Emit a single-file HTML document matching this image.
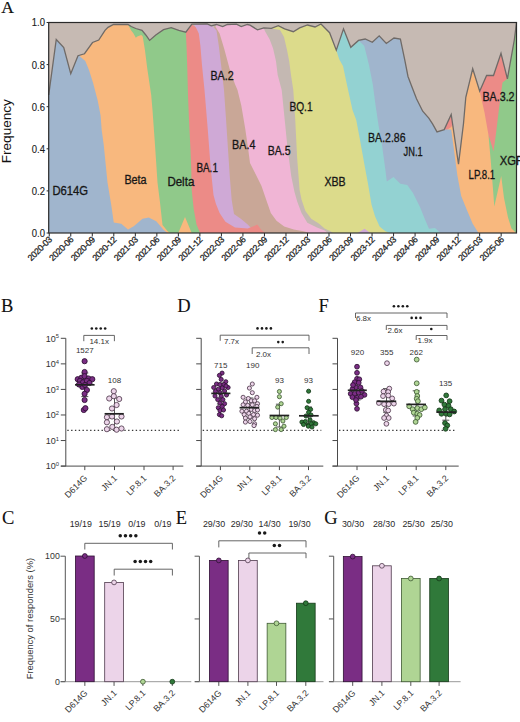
<!DOCTYPE html><html><head><meta charset="utf-8"><style>html,body{margin:0;padding:0;background:#fff;}svg{display:block;}text{font-family:"Liberation Sans",sans-serif;}</style></head><body>
<svg width="520" height="722" viewBox="0 0 520 722">
<rect width="520" height="722" fill="#fff"/>
<text x="1.2" y="12.5" font-size="17.5" fill="#111" stroke="#111" stroke-width="0.2" style="font-family:'Liberation Serif',serif">A</text>
<rect x="48.70" y="22.50" width="467.80" height="210.50" fill="#c6bab3"/>
<path d="M479.70 233.00 L479.70 91.20 L486.60 75.50 L493.50 75.50 L501.00 53.30 L507.40 78.80 L507.40 233.00 Z M444.20 233.00 L444.20 129.60 L451.20 114.50 L452.80 125.00 L452.80 233.00 Z" fill="#ec8b87"/>
<path d="M488.40 233.00 L488.40 134.50 L493.50 151.40 L496.20 132.00 L499.00 108.50 L502.50 82.50 L507.40 78.80 L514.30 40.00 L516.50 22.50 L516.50 233.00 L516.50 233.00 Z" fill="#90c98a"/>
<path d="M444.20 233.00 L444.20 131.50 L451.30 127.00 L452.60 123.80 L458.50 164.20 L463.50 123.50 L465.80 97.30 L472.70 68.80 L479.70 91.20 L484.50 112.60 L488.40 134.50 L490.70 160.00 L492.60 184.00 L494.30 206.50 L501.20 176.00 L504.00 198.00 L508.00 217.50 L511.50 228.60 L515.70 232.50 L515.70 233.00 Z" fill="#f8b87e"/>
<path d="M358.50 233.00 L358.50 40.40 L365.20 39.00 L372.30 42.30 L379.20 35.80 L386.30 43.50 L394.00 38.00 L400.40 39.00 L404.60 59.20 L408.00 76.50 L411.20 85.00 L416.50 98.80 L422.70 111.20 L428.80 118.10 L432.70 124.20 L437.00 131.90 L444.20 129.60 L451.20 129.60 L454.00 150.00 L457.30 175.00 L461.20 196.00 L466.90 210.00 L472.70 223.80 L478.50 233.00 L478.50 233.00 Z" fill="#a0b5cd"/>
<path d="M336.30 233.00 L336.30 50.20 L343.50 28.80 L350.80 47.30 L358.50 40.40 L364.20 45.80 L369.00 65.00 L372.90 85.00 L375.50 105.00 L378.50 125.00 L382.00 145.00 L385.40 170.00 L386.80 181.50 L393.50 176.90 L400.40 183.80 L407.30 185.00 L413.00 193.00 L420.00 207.00 L424.60 218.50 L429.00 228.80 L435.00 228.00 L440.50 233.00 L440.50 233.00 Z" fill="#93d2d2"/>
<path d="M272.50 233.00 L272.50 28.30 L278.30 25.60 L284.60 28.80 L293.30 31.70 L299.60 27.90 L307.50 25.00 L315.00 27.00 L321.00 24.00 L329.60 32.70 L336.30 50.20 L339.20 59.20 L343.00 66.00 L347.00 85.00 L352.50 110.00 L356.25 120.00 L360.00 140.00 L364.50 165.00 L368.00 183.80 L371.50 204.60 L375.00 216.20 L379.60 226.50 L385.40 231.20 L390.00 233.00 L390.00 233.00 Z" fill="#dcdb8b"/>
<path d="M263.80 233.00 L263.80 27.90 L271.30 28.30 L272.50 28.80 L280.00 30.00 L284.00 36.90 L286.90 49.60 L289.20 61.20 L291.00 75.00 L293.30 90.00 L295.20 118.80 L297.10 157.30 L299.60 190.00 L301.50 199.60 L305.40 211.00 L311.20 218.80 L318.80 223.60 L324.60 228.50 L330.40 231.30 L333.00 233.00 L333.00 233.00 Z" fill="#c4b8b2"/>
<path d="M215.80 233.00 L215.80 25.00 L216.50 24.50 L222.70 26.50 L227.30 24.50 L236.50 24.20 L241.20 26.50 L247.30 24.50 L250.00 25.20 L257.50 29.80 L263.80 27.90 L265.00 31.20 L269.60 39.20 L273.10 48.50 L276.00 61.20 L277.70 75.00 L281.70 90.00 L284.60 118.80 L287.50 147.70 L291.30 176.50 L294.50 192.00 L297.20 201.50 L301.50 213.00 L307.30 222.70 L317.00 227.50 L324.60 230.40 L328.00 233.00 L328.00 233.00 Z" fill="#f0b5d5"/>
<path d="M214.20 233.00 L214.20 25.50 L215.80 27.30 L219.60 33.50 L224.20 48.80 L229.60 68.80 L235.00 84.20 L237.50 90.00 L241.30 105.40 L245.20 128.50 L248.00 147.70 L250.00 163.00 L255.80 174.60 L261.50 186.00 L266.30 200.00 L270.80 213.00 L276.50 220.80 L284.20 226.50 L293.80 229.40 L303.50 231.30 L310.00 233.00 L310.00 233.00 Z" fill="#c9a797"/>
<path d="M195.00 233.00 L195.00 24.30 L207.30 23.90 L211.20 25.80 L214.20 28.00 L216.50 30.40 L218.80 45.80 L221.20 65.80 L224.00 90.00 L226.00 118.80 L227.90 147.70 L229.80 176.50 L231.70 200.00 L234.00 214.00 L240.80 218.80 L247.70 224.60 L252.00 229.00 L255.00 233.00 L255.00 233.00 Z M357.70 233.00 L357.70 233.00 L364.60 228.80 L370.40 233.00 L370.40 233.00 Z" fill="#cfa9d6"/>
<path d="M185.80 233.00 L185.80 32.20 L191.90 24.20 L195.80 27.30 L198.80 33.50 L200.40 45.80 L201.90 64.20 L204.50 90.00 L207.70 128.50 L210.60 167.00 L213.50 195.00 L215.80 203.50 L219.60 213.00 L225.40 221.70 L235.00 227.50 L247.70 228.50 L257.30 224.60 L261.00 229.40 L265.00 233.00 L265.00 233.00 Z" fill="#ec8b87"/>
<path d="M128.00 233.00 L128.00 24.50 L131.20 26.50 L135.80 28.50 L142.00 30.40 L145.80 35.00 L149.60 40.40 L155.80 35.00 L163.50 29.60 L171.20 27.60 L178.80 30.40 L185.80 32.20 L186.50 45.80 L187.30 68.80 L188.00 95.00 L189.00 120.00 L190.50 150.00 L191.25 170.00 L191.70 190.00 L193.70 209.00 L196.50 224.60 L199.40 231.30 L200.00 233.00 L200.00 233.00 Z" fill="#90c98a"/>
<path d="M79.20 233.00 L79.20 55.80 L84.50 53.75 L92.50 42.50 L98.75 40.00 L105.00 30.40 L108.00 27.30 L113.50 24.50 L128.00 24.50 L131.20 30.40 L133.50 33.50 L135.80 37.80 L137.30 36.50 L141.20 35.00 L142.70 36.50 L145.00 50.40 L147.30 68.80 L149.60 84.20 L151.20 95.00 L152.50 110.00 L155.00 145.00 L157.50 182.50 L160.00 202.50 L162.50 225.00 L167.50 231.00 L170.00 233.00 L170.00 233.00 Z M178.30 233.00 L178.30 233.00 L185.00 217.00 L191.70 233.00 L191.70 233.00 Z" fill="#f8b87e"/>
<path d="M48.70 233.00 L48.70 95.00 L56.25 39.50 L63.75 47.50 L70.75 73.75 L78.00 55.75 L79.20 55.80 L85.30 61.00 L89.00 70.00 L93.10 83.00 L97.70 100.40 L100.60 115.40 L101.70 130.00 L103.75 145.00 L107.50 182.50 L111.25 205.00 L113.75 222.50 L121.25 223.75 L128.00 229.50 L133.75 226.25 L142.50 218.75 L148.75 217.50 L156.25 221.25 L163.75 230.00 L167.50 233.00 L167.50 233.00 Z" fill="#a0b5cd"/>
<polyline points="48.70,95.00 56.25,39.50 63.75,47.50 70.75,73.75 78.00,55.75 84.50,53.75 92.50,42.50 98.75,40.00 105.00,30.40 108.00,27.30 113.50,24.50 128.00,24.50 131.20,26.50 135.80,28.50 142.00,30.40 145.80,35.00 149.60,40.40 155.80,35.00 163.50,29.60 171.20,27.60 178.80,30.40 185.80,32.20 191.90,24.20 207.30,23.90 211.20,25.80 216.50,24.50 222.70,26.50 227.30,24.50 236.50,24.20 241.20,26.50 247.30,24.50 250.00,25.20 257.50,29.80 263.80,27.90 271.30,28.30 278.30,25.60 284.60,28.80 293.30,31.70 299.60,27.90 307.50,25.00 315.00,27.00 321.00,24.00 329.60,32.70 336.30,50.20 343.50,28.80 350.80,47.30 358.50,40.40 365.20,39.00 372.30,42.30 379.20,35.80 386.30,43.50 394.00,38.00 400.40,39.00 404.60,59.20 408.00,76.50 411.20,85.00 416.50,98.80 422.70,111.20 428.80,118.10 432.70,124.20 437.00,131.90 444.20,129.60 451.20,114.50 458.50,164.20 463.50,123.50 465.80,97.30 472.70,68.80 479.70,91.20 486.60,75.50 493.50,75.50 501.00,53.30 507.40,78.80 514.30,40.00 516.50,22.50" fill="none" stroke="#6f6a67" stroke-width="1.3" stroke-linejoin="miter"/>
<rect x="48.70" y="22.50" width="467.80" height="210.50" fill="none" stroke="#2a2a2a" stroke-width="1.2"/>
<line x1="46.6" y1="233.00" x2="48.70" y2="233.00" stroke="#2a2a2a" stroke-width="1"/>
<text x="45.00" y="236.90" font-size="10.6" text-anchor="end" fill="#1a1a1a" stroke="#1a1a1a" stroke-width="0.12" textLength="13.2" lengthAdjust="spacingAndGlyphs">0.0</text>
<line x1="46.6" y1="190.90" x2="48.70" y2="190.90" stroke="#2a2a2a" stroke-width="1"/>
<text x="45.00" y="194.80" font-size="10.6" text-anchor="end" fill="#1a1a1a" stroke="#1a1a1a" stroke-width="0.12" textLength="13.2" lengthAdjust="spacingAndGlyphs">0.2</text>
<line x1="46.6" y1="148.80" x2="48.70" y2="148.80" stroke="#2a2a2a" stroke-width="1"/>
<text x="45.00" y="152.70" font-size="10.6" text-anchor="end" fill="#1a1a1a" stroke="#1a1a1a" stroke-width="0.12" textLength="13.2" lengthAdjust="spacingAndGlyphs">0.4</text>
<line x1="46.6" y1="106.70" x2="48.70" y2="106.70" stroke="#2a2a2a" stroke-width="1"/>
<text x="45.00" y="110.60" font-size="10.6" text-anchor="end" fill="#1a1a1a" stroke="#1a1a1a" stroke-width="0.12" textLength="13.2" lengthAdjust="spacingAndGlyphs">0.6</text>
<line x1="46.6" y1="64.60" x2="48.70" y2="64.60" stroke="#2a2a2a" stroke-width="1"/>
<text x="45.00" y="68.50" font-size="10.6" text-anchor="end" fill="#1a1a1a" stroke="#1a1a1a" stroke-width="0.12" textLength="13.2" lengthAdjust="spacingAndGlyphs">0.8</text>
<line x1="46.6" y1="22.50" x2="48.70" y2="22.50" stroke="#2a2a2a" stroke-width="1"/>
<text x="45.00" y="26.40" font-size="10.6" text-anchor="end" fill="#1a1a1a" stroke="#1a1a1a" stroke-width="0.12" textLength="13.2" lengthAdjust="spacingAndGlyphs">1.0</text>
<text transform="translate(10.9,131.2) rotate(-90)" font-size="13.6" text-anchor="middle" fill="#111">Frequency</text>
<line x1="49.25" y1="233.00" x2="49.25" y2="236.5" stroke="#2a2a2a" stroke-width="1"/>
<text transform="translate(52.45,240.3) rotate(-45)" font-size="8.8" text-anchor="end" fill="#1a1a1a" stroke="#1a1a1a" stroke-width="0.25" letter-spacing="-0.35">2020-03</text>
<line x1="70.77" y1="233.00" x2="70.77" y2="236.5" stroke="#2a2a2a" stroke-width="1"/>
<text transform="translate(73.97,240.3) rotate(-45)" font-size="8.8" text-anchor="end" fill="#1a1a1a" stroke="#1a1a1a" stroke-width="0.25" letter-spacing="-0.35">2020-06</text>
<line x1="92.29" y1="233.00" x2="92.29" y2="236.5" stroke="#2a2a2a" stroke-width="1"/>
<text transform="translate(95.49,240.3) rotate(-45)" font-size="8.8" text-anchor="end" fill="#1a1a1a" stroke="#1a1a1a" stroke-width="0.25" letter-spacing="-0.35">2020-09</text>
<line x1="113.81" y1="233.00" x2="113.81" y2="236.5" stroke="#2a2a2a" stroke-width="1"/>
<text transform="translate(117.01,240.3) rotate(-45)" font-size="8.8" text-anchor="end" fill="#1a1a1a" stroke="#1a1a1a" stroke-width="0.25" letter-spacing="-0.35">2020-12</text>
<line x1="135.33" y1="233.00" x2="135.33" y2="236.5" stroke="#2a2a2a" stroke-width="1"/>
<text transform="translate(138.53,240.3) rotate(-45)" font-size="8.8" text-anchor="end" fill="#1a1a1a" stroke="#1a1a1a" stroke-width="0.25" letter-spacing="-0.35">2021-03</text>
<line x1="156.85" y1="233.00" x2="156.85" y2="236.5" stroke="#2a2a2a" stroke-width="1"/>
<text transform="translate(160.05,240.3) rotate(-45)" font-size="8.8" text-anchor="end" fill="#1a1a1a" stroke="#1a1a1a" stroke-width="0.25" letter-spacing="-0.35">2021-06</text>
<line x1="178.37" y1="233.00" x2="178.37" y2="236.5" stroke="#2a2a2a" stroke-width="1"/>
<text transform="translate(181.57,240.3) rotate(-45)" font-size="8.8" text-anchor="end" fill="#1a1a1a" stroke="#1a1a1a" stroke-width="0.25" letter-spacing="-0.35">2021-09</text>
<line x1="199.89" y1="233.00" x2="199.89" y2="236.5" stroke="#2a2a2a" stroke-width="1"/>
<text transform="translate(203.09,240.3) rotate(-45)" font-size="8.8" text-anchor="end" fill="#1a1a1a" stroke="#1a1a1a" stroke-width="0.25" letter-spacing="-0.35">2021-12</text>
<line x1="221.41" y1="233.00" x2="221.41" y2="236.5" stroke="#2a2a2a" stroke-width="1"/>
<text transform="translate(224.61,240.3) rotate(-45)" font-size="8.8" text-anchor="end" fill="#1a1a1a" stroke="#1a1a1a" stroke-width="0.25" letter-spacing="-0.35">2022-03</text>
<line x1="242.93" y1="233.00" x2="242.93" y2="236.5" stroke="#2a2a2a" stroke-width="1"/>
<text transform="translate(246.13,240.3) rotate(-45)" font-size="8.8" text-anchor="end" fill="#1a1a1a" stroke="#1a1a1a" stroke-width="0.25" letter-spacing="-0.35">2022-06</text>
<line x1="264.45" y1="233.00" x2="264.45" y2="236.5" stroke="#2a2a2a" stroke-width="1"/>
<text transform="translate(267.65,240.3) rotate(-45)" font-size="8.8" text-anchor="end" fill="#1a1a1a" stroke="#1a1a1a" stroke-width="0.25" letter-spacing="-0.35">2022-09</text>
<line x1="285.97" y1="233.00" x2="285.97" y2="236.5" stroke="#2a2a2a" stroke-width="1"/>
<text transform="translate(289.17,240.3) rotate(-45)" font-size="8.8" text-anchor="end" fill="#1a1a1a" stroke="#1a1a1a" stroke-width="0.25" letter-spacing="-0.35">2022-12</text>
<line x1="307.49" y1="233.00" x2="307.49" y2="236.5" stroke="#2a2a2a" stroke-width="1"/>
<text transform="translate(310.69,240.3) rotate(-45)" font-size="8.8" text-anchor="end" fill="#1a1a1a" stroke="#1a1a1a" stroke-width="0.25" letter-spacing="-0.35">2023-03</text>
<line x1="329.01" y1="233.00" x2="329.01" y2="236.5" stroke="#2a2a2a" stroke-width="1"/>
<text transform="translate(332.21,240.3) rotate(-45)" font-size="8.8" text-anchor="end" fill="#1a1a1a" stroke="#1a1a1a" stroke-width="0.25" letter-spacing="-0.35">2023-06</text>
<line x1="350.53" y1="233.00" x2="350.53" y2="236.5" stroke="#2a2a2a" stroke-width="1"/>
<text transform="translate(353.73,240.3) rotate(-45)" font-size="8.8" text-anchor="end" fill="#1a1a1a" stroke="#1a1a1a" stroke-width="0.25" letter-spacing="-0.35">2023-09</text>
<line x1="372.05" y1="233.00" x2="372.05" y2="236.5" stroke="#2a2a2a" stroke-width="1"/>
<text transform="translate(375.25,240.3) rotate(-45)" font-size="8.8" text-anchor="end" fill="#1a1a1a" stroke="#1a1a1a" stroke-width="0.25" letter-spacing="-0.35">2023-12</text>
<line x1="393.57" y1="233.00" x2="393.57" y2="236.5" stroke="#2a2a2a" stroke-width="1"/>
<text transform="translate(396.77,240.3) rotate(-45)" font-size="8.8" text-anchor="end" fill="#1a1a1a" stroke="#1a1a1a" stroke-width="0.25" letter-spacing="-0.35">2024-03</text>
<line x1="415.09" y1="233.00" x2="415.09" y2="236.5" stroke="#2a2a2a" stroke-width="1"/>
<text transform="translate(418.29,240.3) rotate(-45)" font-size="8.8" text-anchor="end" fill="#1a1a1a" stroke="#1a1a1a" stroke-width="0.25" letter-spacing="-0.35">2024-06</text>
<line x1="436.61" y1="233.00" x2="436.61" y2="236.5" stroke="#2a2a2a" stroke-width="1"/>
<text transform="translate(439.81,240.3) rotate(-45)" font-size="8.8" text-anchor="end" fill="#1a1a1a" stroke="#1a1a1a" stroke-width="0.25" letter-spacing="-0.35">2024-09</text>
<line x1="458.13" y1="233.00" x2="458.13" y2="236.5" stroke="#2a2a2a" stroke-width="1"/>
<text transform="translate(461.33,240.3) rotate(-45)" font-size="8.8" text-anchor="end" fill="#1a1a1a" stroke="#1a1a1a" stroke-width="0.25" letter-spacing="-0.35">2024-12</text>
<line x1="479.65" y1="233.00" x2="479.65" y2="236.5" stroke="#2a2a2a" stroke-width="1"/>
<text transform="translate(482.85,240.3) rotate(-45)" font-size="8.8" text-anchor="end" fill="#1a1a1a" stroke="#1a1a1a" stroke-width="0.25" letter-spacing="-0.35">2025-03</text>
<line x1="501.17" y1="233.00" x2="501.17" y2="236.5" stroke="#2a2a2a" stroke-width="1"/>
<text transform="translate(504.37,240.3) rotate(-45)" font-size="8.8" text-anchor="end" fill="#1a1a1a" stroke="#1a1a1a" stroke-width="0.25" letter-spacing="-0.35">2025-06</text>
<text x="52.40" y="195.30" font-size="12.0" fill="#161616" stroke="#161616" stroke-width="0.3" textLength="35.7" lengthAdjust="spacingAndGlyphs">D614G</text>
<text x="124.40" y="183.80" font-size="12.0" fill="#161616" stroke="#161616" stroke-width="0.3" textLength="22.2" lengthAdjust="spacingAndGlyphs">Beta</text>
<text x="167.40" y="185.50" font-size="12.0" fill="#161616" stroke="#161616" stroke-width="0.3" textLength="26.9" lengthAdjust="spacingAndGlyphs">Delta</text>
<text x="196.40" y="171.60" font-size="12.0" fill="#161616" stroke="#161616" stroke-width="0.3" textLength="21.5" lengthAdjust="spacingAndGlyphs">BA.1</text>
<text x="210.40" y="79.60" font-size="12.0" fill="#161616" stroke="#161616" stroke-width="0.3" textLength="23.2" lengthAdjust="spacingAndGlyphs">BA.2</text>
<text x="232.10" y="148.70" font-size="12.0" fill="#161616" stroke="#161616" stroke-width="0.3" textLength="23.3" lengthAdjust="spacingAndGlyphs">BA.4</text>
<text x="267.70" y="155.00" font-size="12.0" fill="#161616" stroke="#161616" stroke-width="0.3" textLength="22.9" lengthAdjust="spacingAndGlyphs">BA.5</text>
<text x="289.40" y="110.80" font-size="12.0" fill="#161616" stroke="#161616" stroke-width="0.3" textLength="23.2" lengthAdjust="spacingAndGlyphs">BQ.1</text>
<text x="324.40" y="185.50" font-size="12.0" fill="#161616" stroke="#161616" stroke-width="0.3" textLength="21.2" lengthAdjust="spacingAndGlyphs">XBB</text>
<text x="368.10" y="142.00" font-size="12.0" fill="#161616" stroke="#161616" stroke-width="0.3" textLength="37.5" lengthAdjust="spacingAndGlyphs">BA.2.86</text>
<text x="403.60" y="155.80" font-size="12.0" fill="#161616" stroke="#161616" stroke-width="0.3" textLength="19.0" lengthAdjust="spacingAndGlyphs">JN.1</text>
<text x="468.60" y="178.80" font-size="12.0" fill="#161616" stroke="#161616" stroke-width="0.3" textLength="26.6" lengthAdjust="spacingAndGlyphs">LP.8.1</text>
<text x="499.80" y="165.00" font-size="12.0" fill="#161616" stroke="#161616" stroke-width="0.3" textLength="23.2" lengthAdjust="spacingAndGlyphs">XGF</text>
<text x="482.40" y="101.00" font-size="12.0" fill="#161616" stroke="#161616" stroke-width="0.3" textLength="32.2" lengthAdjust="spacingAndGlyphs">BA.3.2</text>
<text x="1.00" y="311.90" font-size="18.5" fill="#111" stroke="#111" stroke-width="0.1" style="font-family:'Liberation Serif',serif">B</text>
<line x1="65.80" y1="338.30" x2="65.80" y2="466.10" stroke="#4a4a4a" stroke-width="1.00" />
<line x1="60.80" y1="466.10" x2="183.30" y2="466.10" stroke="#4a4a4a" stroke-width="1.00" />
<line x1="60.80" y1="466.10" x2="65.80" y2="466.10" stroke="#4a4a4a" stroke-width="1.00" />
<line x1="60.80" y1="440.54" x2="65.80" y2="440.54" stroke="#4a4a4a" stroke-width="1.00" />
<line x1="60.80" y1="414.98" x2="65.80" y2="414.98" stroke="#4a4a4a" stroke-width="1.00" />
<line x1="60.80" y1="389.42" x2="65.80" y2="389.42" stroke="#4a4a4a" stroke-width="1.00" />
<line x1="60.80" y1="363.86" x2="65.80" y2="363.86" stroke="#4a4a4a" stroke-width="1.00" />
<line x1="60.80" y1="338.30" x2="65.80" y2="338.30" stroke="#4a4a4a" stroke-width="1.00" />
<line x1="84.80" y1="466.10" x2="84.80" y2="470.10" stroke="#4a4a4a" stroke-width="1.00" />
<line x1="114.50" y1="466.10" x2="114.50" y2="470.10" stroke="#4a4a4a" stroke-width="1.00" />
<line x1="144.00" y1="466.10" x2="144.00" y2="470.10" stroke="#4a4a4a" stroke-width="1.00" />
<line x1="173.10" y1="466.10" x2="173.10" y2="470.10" stroke="#4a4a4a" stroke-width="1.00" />
<line x1="67.30" y1="430.30" x2="181.30" y2="430.30" stroke="#3a3a3a" stroke-width="1.20" stroke-dasharray="1.4 2.4"/>
<polyline points="83.80,341.20 83.80,335.40 114.40,335.40 114.40,341.20" fill="none" stroke="#555" stroke-width="0.9"/>
<text x="84.80" y="353.40" font-size="8.00" text-anchor="middle" fill="#333" >1527</text>
<text x="114.50" y="383.20" font-size="8.00" text-anchor="middle" fill="#333" >108</text>
<line x1="84.80" y1="373.00" x2="84.80" y2="396.60" stroke="#444" stroke-width="0.90" />
<line x1="81.30" y1="373.00" x2="88.30" y2="373.00" stroke="#555" stroke-width="1.00" />
<line x1="81.30" y1="396.60" x2="88.30" y2="396.60" stroke="#555" stroke-width="1.00" />
<circle cx="84.60" cy="361.20" r="2.60" fill="#7a2d84" stroke="#2e1033" stroke-width="0.85"/>
<circle cx="84.60" cy="372.00" r="2.60" fill="#7a2d84" stroke="#2e1033" stroke-width="0.85"/>
<circle cx="77.70" cy="379.20" r="2.60" fill="#7a2d84" stroke="#2e1033" stroke-width="0.85"/>
<circle cx="81.50" cy="377.70" r="2.60" fill="#7a2d84" stroke="#2e1033" stroke-width="0.85"/>
<circle cx="84.60" cy="376.20" r="2.60" fill="#7a2d84" stroke="#2e1033" stroke-width="0.85"/>
<circle cx="88.50" cy="378.50" r="2.60" fill="#7a2d84" stroke="#2e1033" stroke-width="0.85"/>
<circle cx="92.30" cy="379.20" r="2.60" fill="#7a2d84" stroke="#2e1033" stroke-width="0.85"/>
<circle cx="80.00" cy="380.80" r="2.60" fill="#7a2d84" stroke="#2e1033" stroke-width="0.85"/>
<circle cx="83.00" cy="382.30" r="2.60" fill="#7a2d84" stroke="#2e1033" stroke-width="0.85"/>
<circle cx="86.90" cy="380.80" r="2.60" fill="#7a2d84" stroke="#2e1033" stroke-width="0.85"/>
<circle cx="82.30" cy="386.90" r="2.60" fill="#7a2d84" stroke="#2e1033" stroke-width="0.85"/>
<circle cx="86.90" cy="390.00" r="2.60" fill="#7a2d84" stroke="#2e1033" stroke-width="0.85"/>
<circle cx="84.60" cy="393.80" r="2.60" fill="#7a2d84" stroke="#2e1033" stroke-width="0.85"/>
<circle cx="84.60" cy="400.00" r="2.60" fill="#7a2d84" stroke="#2e1033" stroke-width="0.85"/>
<circle cx="83.80" cy="410.00" r="2.60" fill="#7a2d84" stroke="#2e1033" stroke-width="0.85"/>
<circle cx="85.40" cy="408.20" r="2.60" fill="#7a2d84" stroke="#2e1033" stroke-width="0.85"/>
<circle cx="89.50" cy="383.00" r="2.60" fill="#7a2d84" stroke="#2e1033" stroke-width="0.85"/>
<circle cx="79.00" cy="384.50" r="2.60" fill="#7a2d84" stroke="#2e1033" stroke-width="0.85"/>
<circle cx="85.00" cy="385.00" r="2.60" fill="#7a2d84" stroke="#2e1033" stroke-width="0.85"/>
<line x1="75.00" y1="384.80" x2="94.60" y2="384.80" stroke="#222" stroke-width="1.70" />
<line x1="114.50" y1="398.00" x2="114.50" y2="428.00" stroke="#444" stroke-width="0.90" />
<line x1="111.00" y1="398.00" x2="118.00" y2="398.00" stroke="#555" stroke-width="1.00" />
<line x1="111.00" y1="428.00" x2="118.00" y2="428.00" stroke="#555" stroke-width="1.00" />
<circle cx="113.80" cy="391.20" r="2.60" fill="#ecd4e9" stroke="#4f3a4d" stroke-width="0.85"/>
<circle cx="113.80" cy="396.20" r="2.60" fill="#ecd4e9" stroke="#4f3a4d" stroke-width="0.85"/>
<circle cx="109.20" cy="398.50" r="2.60" fill="#ecd4e9" stroke="#4f3a4d" stroke-width="0.85"/>
<circle cx="119.20" cy="399.00" r="2.60" fill="#ecd4e9" stroke="#4f3a4d" stroke-width="0.85"/>
<circle cx="116.60" cy="405.00" r="2.60" fill="#ecd4e9" stroke="#4f3a4d" stroke-width="0.85"/>
<circle cx="112.00" cy="408.50" r="2.60" fill="#ecd4e9" stroke="#4f3a4d" stroke-width="0.85"/>
<circle cx="106.90" cy="417.20" r="2.60" fill="#ecd4e9" stroke="#4f3a4d" stroke-width="0.85"/>
<circle cx="112.00" cy="416.50" r="2.60" fill="#ecd4e9" stroke="#4f3a4d" stroke-width="0.85"/>
<circle cx="121.50" cy="416.50" r="2.60" fill="#ecd4e9" stroke="#4f3a4d" stroke-width="0.85"/>
<circle cx="106.90" cy="422.30" r="2.60" fill="#ecd4e9" stroke="#4f3a4d" stroke-width="0.85"/>
<circle cx="116.90" cy="421.50" r="2.60" fill="#ecd4e9" stroke="#4f3a4d" stroke-width="0.85"/>
<circle cx="112.30" cy="426.90" r="2.60" fill="#ecd4e9" stroke="#4f3a4d" stroke-width="0.85"/>
<circle cx="106.90" cy="429.20" r="2.60" fill="#ecd4e9" stroke="#4f3a4d" stroke-width="0.85"/>
<circle cx="116.60" cy="429.70" r="2.60" fill="#ecd4e9" stroke="#4f3a4d" stroke-width="0.85"/>
<circle cx="121.50" cy="428.50" r="2.60" fill="#ecd4e9" stroke="#4f3a4d" stroke-width="0.85"/>
<line x1="104.60" y1="413.80" x2="123.80" y2="413.80" stroke="#222" stroke-width="1.70" />
<text transform="translate(87.90,478.70) rotate(-45)" font-size="8.8" text-anchor="end" fill="#333">D614G</text>
<text transform="translate(117.60,478.70) rotate(-45)" font-size="8.8" text-anchor="end" fill="#333">JN.1</text>
<text transform="translate(147.10,478.70) rotate(-45)" font-size="8.8" text-anchor="end" fill="#333">LP.8.1</text>
<text transform="translate(176.20,478.70) rotate(-45)" font-size="8.8" text-anchor="end" fill="#333">BA.3.2</text>
<text x="59.00" y="469.30" font-size="9" text-anchor="end" fill="#333">10<tspan font-size="5.8" dy="-3.1">0</tspan></text>
<text x="59.00" y="443.74" font-size="9" text-anchor="end" fill="#333">10<tspan font-size="5.8" dy="-3.1">1</tspan></text>
<text x="59.00" y="418.18" font-size="9" text-anchor="end" fill="#333">10<tspan font-size="5.8" dy="-3.1">2</tspan></text>
<text x="59.00" y="392.62" font-size="9" text-anchor="end" fill="#333">10<tspan font-size="5.8" dy="-3.1">3</tspan></text>
<text x="59.00" y="367.06" font-size="9" text-anchor="end" fill="#333">10<tspan font-size="5.8" dy="-3.1">4</tspan></text>
<text x="59.00" y="341.50" font-size="9" text-anchor="end" fill="#333">10<tspan font-size="5.8" dy="-3.1">5</tspan></text>
<text x="99.20" y="343.80" font-size="8.00" text-anchor="middle" fill="#333" >14.1x</text>
<circle cx="91.83" cy="328.50" r="1.30" fill="#1a1a1a"/>
<circle cx="96.28" cy="328.50" r="1.30" fill="#1a1a1a"/>
<circle cx="100.72" cy="328.50" r="1.30" fill="#1a1a1a"/>
<circle cx="105.17" cy="328.50" r="1.30" fill="#1a1a1a"/>
<text x="177.20" y="311.50" font-size="18.5" fill="#111" stroke="#111" stroke-width="0.1" style="font-family:'Liberation Serif',serif">D</text>
<line x1="201.20" y1="338.30" x2="201.20" y2="466.10" stroke="#4a4a4a" stroke-width="1.00" />
<line x1="196.20" y1="466.10" x2="323.30" y2="466.10" stroke="#4a4a4a" stroke-width="1.00" />
<line x1="196.20" y1="466.10" x2="201.20" y2="466.10" stroke="#4a4a4a" stroke-width="1.00" />
<line x1="196.20" y1="440.54" x2="201.20" y2="440.54" stroke="#4a4a4a" stroke-width="1.00" />
<line x1="196.20" y1="414.98" x2="201.20" y2="414.98" stroke="#4a4a4a" stroke-width="1.00" />
<line x1="196.20" y1="389.42" x2="201.20" y2="389.42" stroke="#4a4a4a" stroke-width="1.00" />
<line x1="196.20" y1="363.86" x2="201.20" y2="363.86" stroke="#4a4a4a" stroke-width="1.00" />
<line x1="196.20" y1="338.30" x2="201.20" y2="338.30" stroke="#4a4a4a" stroke-width="1.00" />
<line x1="220.40" y1="466.10" x2="220.40" y2="470.10" stroke="#4a4a4a" stroke-width="1.00" />
<line x1="249.80" y1="466.10" x2="249.80" y2="470.10" stroke="#4a4a4a" stroke-width="1.00" />
<line x1="279.40" y1="466.10" x2="279.40" y2="470.10" stroke="#4a4a4a" stroke-width="1.00" />
<line x1="308.50" y1="466.10" x2="308.50" y2="470.10" stroke="#4a4a4a" stroke-width="1.00" />
<line x1="202.70" y1="430.30" x2="321.30" y2="430.30" stroke="#3a3a3a" stroke-width="1.20" stroke-dasharray="1.4 2.4"/>
<polyline points="220.20,340.80 220.20,335.20 309.00,335.20 309.00,340.80" fill="none" stroke="#555" stroke-width="0.9"/>
<polyline points="252.20,354.00 252.20,347.80 309.00,347.80 309.00,354.00" fill="none" stroke="#555" stroke-width="0.9"/>
<text x="220.80" y="367.70" font-size="8.00" text-anchor="middle" fill="#333" >715</text>
<text x="252.80" y="367.70" font-size="8.00" text-anchor="middle" fill="#333" >190</text>
<text x="279.40" y="383.30" font-size="8.00" text-anchor="middle" fill="#333" >93</text>
<text x="308.50" y="383.30" font-size="8.00" text-anchor="middle" fill="#333" >93</text>
<line x1="220.40" y1="383.00" x2="220.40" y2="404.00" stroke="#444" stroke-width="0.90" />
<line x1="216.90" y1="383.00" x2="223.90" y2="383.00" stroke="#555" stroke-width="1.00" />
<line x1="216.90" y1="404.00" x2="223.90" y2="404.00" stroke="#555" stroke-width="1.00" />
<circle cx="222.10" cy="373.10" r="2.05" fill="#7a2d84" stroke="#2e1033" stroke-width="0.85"/>
<circle cx="219.40" cy="375.40" r="2.05" fill="#7a2d84" stroke="#2e1033" stroke-width="0.85"/>
<circle cx="221.20" cy="379.40" r="2.05" fill="#7a2d84" stroke="#2e1033" stroke-width="0.85"/>
<circle cx="225.80" cy="381.70" r="2.05" fill="#7a2d84" stroke="#2e1033" stroke-width="0.85"/>
<circle cx="216.50" cy="384.00" r="2.05" fill="#7a2d84" stroke="#2e1033" stroke-width="0.85"/>
<circle cx="220.00" cy="384.60" r="2.05" fill="#7a2d84" stroke="#2e1033" stroke-width="0.85"/>
<circle cx="224.00" cy="384.60" r="2.05" fill="#7a2d84" stroke="#2e1033" stroke-width="0.85"/>
<circle cx="213.70" cy="387.50" r="2.05" fill="#7a2d84" stroke="#2e1033" stroke-width="0.85"/>
<circle cx="218.30" cy="389.20" r="2.05" fill="#7a2d84" stroke="#2e1033" stroke-width="0.85"/>
<circle cx="222.30" cy="388.00" r="2.05" fill="#7a2d84" stroke="#2e1033" stroke-width="0.85"/>
<circle cx="228.10" cy="387.50" r="2.05" fill="#7a2d84" stroke="#2e1033" stroke-width="0.85"/>
<circle cx="215.40" cy="391.50" r="2.05" fill="#7a2d84" stroke="#2e1033" stroke-width="0.85"/>
<circle cx="220.00" cy="392.70" r="2.05" fill="#7a2d84" stroke="#2e1033" stroke-width="0.85"/>
<circle cx="224.60" cy="391.00" r="2.05" fill="#7a2d84" stroke="#2e1033" stroke-width="0.85"/>
<circle cx="221.20" cy="396.20" r="2.05" fill="#7a2d84" stroke="#2e1033" stroke-width="0.85"/>
<circle cx="217.70" cy="399.60" r="2.05" fill="#7a2d84" stroke="#2e1033" stroke-width="0.85"/>
<circle cx="222.90" cy="399.60" r="2.05" fill="#7a2d84" stroke="#2e1033" stroke-width="0.85"/>
<circle cx="220.00" cy="403.10" r="2.05" fill="#7a2d84" stroke="#2e1033" stroke-width="0.85"/>
<circle cx="224.60" cy="403.70" r="2.05" fill="#7a2d84" stroke="#2e1033" stroke-width="0.85"/>
<circle cx="218.30" cy="407.70" r="2.05" fill="#7a2d84" stroke="#2e1033" stroke-width="0.85"/>
<circle cx="222.30" cy="406.50" r="2.05" fill="#7a2d84" stroke="#2e1033" stroke-width="0.85"/>
<circle cx="220.00" cy="410.60" r="2.05" fill="#7a2d84" stroke="#2e1033" stroke-width="0.85"/>
<circle cx="223.50" cy="410.00" r="2.05" fill="#7a2d84" stroke="#2e1033" stroke-width="0.85"/>
<circle cx="219.40" cy="414.60" r="2.05" fill="#7a2d84" stroke="#2e1033" stroke-width="0.85"/>
<circle cx="221.70" cy="415.80" r="2.05" fill="#7a2d84" stroke="#2e1033" stroke-width="0.85"/>
<circle cx="226.50" cy="395.00" r="2.05" fill="#7a2d84" stroke="#2e1033" stroke-width="0.85"/>
<circle cx="215.00" cy="396.00" r="2.05" fill="#7a2d84" stroke="#2e1033" stroke-width="0.85"/>
<circle cx="226.00" cy="386.00" r="2.05" fill="#7a2d84" stroke="#2e1033" stroke-width="0.85"/>
<line x1="211.30" y1="393.40" x2="230.40" y2="393.40" stroke="#222" stroke-width="1.70" />
<line x1="249.80" y1="398.00" x2="249.80" y2="418.00" stroke="#444" stroke-width="0.90" />
<line x1="246.30" y1="398.00" x2="253.30" y2="398.00" stroke="#555" stroke-width="1.00" />
<line x1="246.30" y1="418.00" x2="253.30" y2="418.00" stroke="#555" stroke-width="1.00" />
<circle cx="252.30" cy="384.00" r="2.05" fill="#ecd4e9" stroke="#4f3a4d" stroke-width="0.85"/>
<circle cx="249.40" cy="388.10" r="2.05" fill="#ecd4e9" stroke="#4f3a4d" stroke-width="0.85"/>
<circle cx="252.30" cy="392.70" r="2.05" fill="#ecd4e9" stroke="#4f3a4d" stroke-width="0.85"/>
<circle cx="243.10" cy="397.30" r="2.05" fill="#ecd4e9" stroke="#4f3a4d" stroke-width="0.85"/>
<circle cx="248.30" cy="398.50" r="2.05" fill="#ecd4e9" stroke="#4f3a4d" stroke-width="0.85"/>
<circle cx="256.90" cy="397.30" r="2.05" fill="#ecd4e9" stroke="#4f3a4d" stroke-width="0.85"/>
<circle cx="245.40" cy="401.90" r="2.05" fill="#ecd4e9" stroke="#4f3a4d" stroke-width="0.85"/>
<circle cx="251.20" cy="400.80" r="2.05" fill="#ecd4e9" stroke="#4f3a4d" stroke-width="0.85"/>
<circle cx="254.60" cy="400.80" r="2.05" fill="#ecd4e9" stroke="#4f3a4d" stroke-width="0.85"/>
<circle cx="257.50" cy="403.70" r="2.05" fill="#ecd4e9" stroke="#4f3a4d" stroke-width="0.85"/>
<circle cx="243.10" cy="404.80" r="2.05" fill="#ecd4e9" stroke="#4f3a4d" stroke-width="0.85"/>
<circle cx="247.70" cy="405.40" r="2.05" fill="#ecd4e9" stroke="#4f3a4d" stroke-width="0.85"/>
<circle cx="252.30" cy="404.80" r="2.05" fill="#ecd4e9" stroke="#4f3a4d" stroke-width="0.85"/>
<circle cx="256.90" cy="406.50" r="2.05" fill="#ecd4e9" stroke="#4f3a4d" stroke-width="0.85"/>
<circle cx="241.90" cy="411.20" r="2.05" fill="#ecd4e9" stroke="#4f3a4d" stroke-width="0.85"/>
<circle cx="246.50" cy="411.20" r="2.05" fill="#ecd4e9" stroke="#4f3a4d" stroke-width="0.85"/>
<circle cx="251.20" cy="409.40" r="2.05" fill="#ecd4e9" stroke="#4f3a4d" stroke-width="0.85"/>
<circle cx="254.60" cy="410.60" r="2.05" fill="#ecd4e9" stroke="#4f3a4d" stroke-width="0.85"/>
<circle cx="257.50" cy="410.00" r="2.05" fill="#ecd4e9" stroke="#4f3a4d" stroke-width="0.85"/>
<circle cx="244.20" cy="414.60" r="2.05" fill="#ecd4e9" stroke="#4f3a4d" stroke-width="0.85"/>
<circle cx="248.80" cy="413.50" r="2.05" fill="#ecd4e9" stroke="#4f3a4d" stroke-width="0.85"/>
<circle cx="253.50" cy="414.60" r="2.05" fill="#ecd4e9" stroke="#4f3a4d" stroke-width="0.85"/>
<circle cx="257.50" cy="415.20" r="2.05" fill="#ecd4e9" stroke="#4f3a4d" stroke-width="0.85"/>
<circle cx="245.40" cy="418.10" r="2.05" fill="#ecd4e9" stroke="#4f3a4d" stroke-width="0.85"/>
<circle cx="250.00" cy="416.90" r="2.05" fill="#ecd4e9" stroke="#4f3a4d" stroke-width="0.85"/>
<circle cx="254.60" cy="418.70" r="2.05" fill="#ecd4e9" stroke="#4f3a4d" stroke-width="0.85"/>
<circle cx="245.40" cy="422.10" r="2.05" fill="#ecd4e9" stroke="#4f3a4d" stroke-width="0.85"/>
<circle cx="250.00" cy="421.50" r="2.05" fill="#ecd4e9" stroke="#4f3a4d" stroke-width="0.85"/>
<circle cx="254.60" cy="423.80" r="2.05" fill="#ecd4e9" stroke="#4f3a4d" stroke-width="0.85"/>
<circle cx="254.00" cy="425.60" r="2.05" fill="#ecd4e9" stroke="#4f3a4d" stroke-width="0.85"/>
<line x1="239.60" y1="407.70" x2="259.20" y2="407.70" stroke="#222" stroke-width="1.70" />
<line x1="279.40" y1="404.20" x2="279.40" y2="427.00" stroke="#444" stroke-width="0.90" />
<line x1="275.90" y1="404.20" x2="282.90" y2="404.20" stroke="#555" stroke-width="1.00" />
<line x1="275.90" y1="427.00" x2="282.90" y2="427.00" stroke="#555" stroke-width="1.00" />
<circle cx="279.40" cy="391.50" r="2.05" fill="#afd594" stroke="#3f5a34" stroke-width="0.85"/>
<circle cx="279.40" cy="396.70" r="2.05" fill="#afd594" stroke="#3f5a34" stroke-width="0.85"/>
<circle cx="281.20" cy="403.70" r="2.05" fill="#afd594" stroke="#3f5a34" stroke-width="0.85"/>
<circle cx="277.70" cy="407.10" r="2.05" fill="#afd594" stroke="#3f5a34" stroke-width="0.85"/>
<circle cx="271.90" cy="417.50" r="2.05" fill="#afd594" stroke="#3f5a34" stroke-width="0.85"/>
<circle cx="276.00" cy="417.50" r="2.05" fill="#afd594" stroke="#3f5a34" stroke-width="0.85"/>
<circle cx="286.30" cy="417.50" r="2.05" fill="#afd594" stroke="#3f5a34" stroke-width="0.85"/>
<circle cx="282.90" cy="421.00" r="2.05" fill="#afd594" stroke="#3f5a34" stroke-width="0.85"/>
<circle cx="275.40" cy="423.80" r="2.05" fill="#afd594" stroke="#3f5a34" stroke-width="0.85"/>
<circle cx="284.00" cy="426.20" r="2.05" fill="#afd594" stroke="#3f5a34" stroke-width="0.85"/>
<circle cx="275.40" cy="429.60" r="2.05" fill="#afd594" stroke="#3f5a34" stroke-width="0.85"/>
<circle cx="281.20" cy="429.60" r="2.05" fill="#afd594" stroke="#3f5a34" stroke-width="0.85"/>
<circle cx="280.00" cy="418.00" r="2.05" fill="#afd594" stroke="#3f5a34" stroke-width="0.85"/>
<line x1="269.60" y1="415.50" x2="289.20" y2="415.50" stroke="#222" stroke-width="1.70" />
<line x1="308.50" y1="407.00" x2="308.50" y2="424.00" stroke="#444" stroke-width="0.90" />
<line x1="305.00" y1="407.00" x2="312.00" y2="407.00" stroke="#555" stroke-width="1.00" />
<line x1="305.00" y1="424.00" x2="312.00" y2="424.00" stroke="#555" stroke-width="1.00" />
<circle cx="308.60" cy="391.20" r="2.05" fill="#30793a" stroke="#143818" stroke-width="0.85"/>
<circle cx="308.60" cy="401.30" r="2.05" fill="#30793a" stroke="#143818" stroke-width="0.85"/>
<circle cx="307.10" cy="407.70" r="2.05" fill="#30793a" stroke="#143818" stroke-width="0.85"/>
<circle cx="310.60" cy="409.40" r="2.05" fill="#30793a" stroke="#143818" stroke-width="0.85"/>
<circle cx="308.60" cy="412.30" r="2.05" fill="#30793a" stroke="#143818" stroke-width="0.85"/>
<circle cx="301.90" cy="422.10" r="2.05" fill="#30793a" stroke="#143818" stroke-width="0.85"/>
<circle cx="305.40" cy="421.50" r="2.05" fill="#30793a" stroke="#143818" stroke-width="0.85"/>
<circle cx="310.00" cy="419.80" r="2.05" fill="#30793a" stroke="#143818" stroke-width="0.85"/>
<circle cx="313.50" cy="422.70" r="2.05" fill="#30793a" stroke="#143818" stroke-width="0.85"/>
<circle cx="315.80" cy="423.80" r="2.05" fill="#30793a" stroke="#143818" stroke-width="0.85"/>
<circle cx="308.30" cy="425.00" r="2.05" fill="#30793a" stroke="#143818" stroke-width="0.85"/>
<circle cx="311.20" cy="423.80" r="2.05" fill="#30793a" stroke="#143818" stroke-width="0.85"/>
<circle cx="308.30" cy="426.20" r="2.05" fill="#30793a" stroke="#143818" stroke-width="0.85"/>
<circle cx="306.00" cy="416.00" r="2.05" fill="#30793a" stroke="#143818" stroke-width="0.85"/>
<circle cx="311.00" cy="415.00" r="2.05" fill="#30793a" stroke="#143818" stroke-width="0.85"/>
<circle cx="303.50" cy="424.50" r="2.05" fill="#30793a" stroke="#143818" stroke-width="0.85"/>
<circle cx="312.00" cy="427.00" r="2.05" fill="#30793a" stroke="#143818" stroke-width="0.85"/>
<line x1="299.00" y1="415.80" x2="318.70" y2="415.80" stroke="#222" stroke-width="1.70" />
<text transform="translate(223.50,478.70) rotate(-45)" font-size="8.8" text-anchor="end" fill="#333">D614G</text>
<text transform="translate(252.90,478.70) rotate(-45)" font-size="8.8" text-anchor="end" fill="#333">JN.1</text>
<text transform="translate(282.50,478.70) rotate(-45)" font-size="8.8" text-anchor="end" fill="#333">LP.8.1</text>
<text transform="translate(311.60,478.70) rotate(-45)" font-size="8.8" text-anchor="end" fill="#333">BA.3.2</text>
<text x="231.50" y="343.60" font-size="8.00" text-anchor="middle" fill="#333" >7.7x</text>
<text x="263.50" y="357.40" font-size="8.00" text-anchor="middle" fill="#333" >2.0x</text>
<circle cx="257.52" cy="328.40" r="1.30" fill="#1a1a1a"/>
<circle cx="261.97" cy="328.40" r="1.30" fill="#1a1a1a"/>
<circle cx="266.43" cy="328.40" r="1.30" fill="#1a1a1a"/>
<circle cx="270.88" cy="328.40" r="1.30" fill="#1a1a1a"/>
<circle cx="278.27" cy="342.10" r="1.30" fill="#1a1a1a"/>
<circle cx="282.73" cy="342.10" r="1.30" fill="#1a1a1a"/>
<text x="318.40" y="311.50" font-size="18.5" fill="#111" stroke="#111" stroke-width="0.1" style="font-family:'Liberation Serif',serif">F</text>
<line x1="337.50" y1="338.30" x2="337.50" y2="466.10" stroke="#4a4a4a" stroke-width="1.00" />
<line x1="332.50" y1="466.10" x2="458.70" y2="466.10" stroke="#4a4a4a" stroke-width="1.00" />
<line x1="332.50" y1="466.10" x2="337.50" y2="466.10" stroke="#4a4a4a" stroke-width="1.00" />
<line x1="332.50" y1="440.54" x2="337.50" y2="440.54" stroke="#4a4a4a" stroke-width="1.00" />
<line x1="332.50" y1="414.98" x2="337.50" y2="414.98" stroke="#4a4a4a" stroke-width="1.00" />
<line x1="332.50" y1="389.42" x2="337.50" y2="389.42" stroke="#4a4a4a" stroke-width="1.00" />
<line x1="332.50" y1="363.86" x2="337.50" y2="363.86" stroke="#4a4a4a" stroke-width="1.00" />
<line x1="332.50" y1="338.30" x2="337.50" y2="338.30" stroke="#4a4a4a" stroke-width="1.00" />
<line x1="357.00" y1="466.10" x2="357.00" y2="470.10" stroke="#4a4a4a" stroke-width="1.00" />
<line x1="386.50" y1="466.10" x2="386.50" y2="470.10" stroke="#4a4a4a" stroke-width="1.00" />
<line x1="416.20" y1="466.10" x2="416.20" y2="470.10" stroke="#4a4a4a" stroke-width="1.00" />
<line x1="445.80" y1="466.10" x2="445.80" y2="470.10" stroke="#4a4a4a" stroke-width="1.00" />
<line x1="339.00" y1="430.30" x2="456.70" y2="430.30" stroke="#3a3a3a" stroke-width="1.20" stroke-dasharray="1.4 2.4"/>
<polyline points="355.50,318.00 355.50,313.00 447.00,313.00 447.00,318.00" fill="none" stroke="#555" stroke-width="0.9"/>
<polyline points="386.30,330.00 386.30,325.40 447.00,325.40 447.00,330.00" fill="none" stroke="#555" stroke-width="0.9"/>
<polyline points="416.20,340.00 416.20,335.50 447.00,335.50 447.00,340.00" fill="none" stroke="#555" stroke-width="0.9"/>
<text x="357.50" y="355.20" font-size="8.00" text-anchor="middle" fill="#333" >920</text>
<text x="386.70" y="355.20" font-size="8.00" text-anchor="middle" fill="#333" >355</text>
<text x="416.20" y="355.00" font-size="8.00" text-anchor="middle" fill="#333" >262</text>
<text x="445.60" y="386.00" font-size="8.00" text-anchor="middle" fill="#333" >135</text>
<line x1="357.00" y1="381.00" x2="357.00" y2="400.00" stroke="#444" stroke-width="0.90" />
<line x1="353.50" y1="381.00" x2="360.50" y2="381.00" stroke="#555" stroke-width="1.00" />
<line x1="353.50" y1="400.00" x2="360.50" y2="400.00" stroke="#555" stroke-width="1.00" />
<circle cx="357.00" cy="366.70" r="2.40" fill="#7a2d84" stroke="#2e1033" stroke-width="0.85"/>
<circle cx="357.00" cy="372.80" r="2.40" fill="#7a2d84" stroke="#2e1033" stroke-width="0.85"/>
<circle cx="357.00" cy="378.80" r="2.40" fill="#7a2d84" stroke="#2e1033" stroke-width="0.85"/>
<circle cx="359.30" cy="379.30" r="2.40" fill="#7a2d84" stroke="#2e1033" stroke-width="0.85"/>
<circle cx="354.70" cy="382.20" r="2.40" fill="#7a2d84" stroke="#2e1033" stroke-width="0.85"/>
<circle cx="358.70" cy="382.80" r="2.40" fill="#7a2d84" stroke="#2e1033" stroke-width="0.85"/>
<circle cx="355.80" cy="387.40" r="2.40" fill="#7a2d84" stroke="#2e1033" stroke-width="0.85"/>
<circle cx="360.50" cy="387.40" r="2.40" fill="#7a2d84" stroke="#2e1033" stroke-width="0.85"/>
<circle cx="352.40" cy="389.20" r="2.40" fill="#7a2d84" stroke="#2e1033" stroke-width="0.85"/>
<circle cx="350.70" cy="393.80" r="2.40" fill="#7a2d84" stroke="#2e1033" stroke-width="0.85"/>
<circle cx="354.70" cy="393.80" r="2.40" fill="#7a2d84" stroke="#2e1033" stroke-width="0.85"/>
<circle cx="358.70" cy="392.60" r="2.40" fill="#7a2d84" stroke="#2e1033" stroke-width="0.85"/>
<circle cx="364.50" cy="394.90" r="2.40" fill="#7a2d84" stroke="#2e1033" stroke-width="0.85"/>
<circle cx="352.40" cy="397.20" r="2.40" fill="#7a2d84" stroke="#2e1033" stroke-width="0.85"/>
<circle cx="357.00" cy="397.80" r="2.40" fill="#7a2d84" stroke="#2e1033" stroke-width="0.85"/>
<circle cx="361.00" cy="396.70" r="2.40" fill="#7a2d84" stroke="#2e1033" stroke-width="0.85"/>
<circle cx="356.40" cy="403.60" r="2.40" fill="#7a2d84" stroke="#2e1033" stroke-width="0.85"/>
<circle cx="357.00" cy="408.80" r="2.40" fill="#7a2d84" stroke="#2e1033" stroke-width="0.85"/>
<circle cx="356.00" cy="400.00" r="2.40" fill="#7a2d84" stroke="#2e1033" stroke-width="0.85"/>
<circle cx="362.00" cy="391.00" r="2.40" fill="#7a2d84" stroke="#2e1033" stroke-width="0.85"/>
<circle cx="353.00" cy="385.00" r="2.40" fill="#7a2d84" stroke="#2e1033" stroke-width="0.85"/>
<line x1="347.80" y1="390.30" x2="366.80" y2="390.30" stroke="#222" stroke-width="1.70" />
<line x1="386.50" y1="388.60" x2="386.50" y2="412.20" stroke="#444" stroke-width="0.90" />
<line x1="383.00" y1="388.60" x2="390.00" y2="388.60" stroke="#555" stroke-width="1.00" />
<line x1="383.00" y1="412.20" x2="390.00" y2="412.20" stroke="#555" stroke-width="1.00" />
<circle cx="387.00" cy="363.20" r="2.40" fill="#ecd4e9" stroke="#4f3a4d" stroke-width="0.85"/>
<circle cx="389.30" cy="388.60" r="2.40" fill="#ecd4e9" stroke="#4f3a4d" stroke-width="0.85"/>
<circle cx="383.50" cy="391.50" r="2.40" fill="#ecd4e9" stroke="#4f3a4d" stroke-width="0.85"/>
<circle cx="388.20" cy="392.00" r="2.40" fill="#ecd4e9" stroke="#4f3a4d" stroke-width="0.85"/>
<circle cx="383.00" cy="396.10" r="2.40" fill="#ecd4e9" stroke="#4f3a4d" stroke-width="0.85"/>
<circle cx="388.20" cy="395.50" r="2.40" fill="#ecd4e9" stroke="#4f3a4d" stroke-width="0.85"/>
<circle cx="392.20" cy="398.40" r="2.40" fill="#ecd4e9" stroke="#4f3a4d" stroke-width="0.85"/>
<circle cx="378.90" cy="403.00" r="2.40" fill="#ecd4e9" stroke="#4f3a4d" stroke-width="0.85"/>
<circle cx="384.10" cy="404.20" r="2.40" fill="#ecd4e9" stroke="#4f3a4d" stroke-width="0.85"/>
<circle cx="388.70" cy="404.20" r="2.40" fill="#ecd4e9" stroke="#4f3a4d" stroke-width="0.85"/>
<circle cx="393.90" cy="403.60" r="2.40" fill="#ecd4e9" stroke="#4f3a4d" stroke-width="0.85"/>
<circle cx="385.80" cy="409.90" r="2.40" fill="#ecd4e9" stroke="#4f3a4d" stroke-width="0.85"/>
<circle cx="388.20" cy="410.50" r="2.40" fill="#ecd4e9" stroke="#4f3a4d" stroke-width="0.85"/>
<circle cx="386.40" cy="415.70" r="2.40" fill="#ecd4e9" stroke="#4f3a4d" stroke-width="0.85"/>
<circle cx="384.10" cy="418.00" r="2.40" fill="#ecd4e9" stroke="#4f3a4d" stroke-width="0.85"/>
<circle cx="388.70" cy="418.00" r="2.40" fill="#ecd4e9" stroke="#4f3a4d" stroke-width="0.85"/>
<circle cx="386.40" cy="423.80" r="2.40" fill="#ecd4e9" stroke="#4f3a4d" stroke-width="0.85"/>
<line x1="376.60" y1="401.30" x2="396.20" y2="401.30" stroke="#222" stroke-width="1.70" />
<line x1="416.20" y1="390.80" x2="416.20" y2="416.00" stroke="#444" stroke-width="0.90" />
<line x1="412.70" y1="390.80" x2="419.70" y2="390.80" stroke="#555" stroke-width="1.00" />
<line x1="412.70" y1="416.00" x2="419.70" y2="416.00" stroke="#555" stroke-width="1.00" />
<circle cx="416.70" cy="359.60" r="2.40" fill="#afd594" stroke="#3f5a34" stroke-width="0.85"/>
<circle cx="416.70" cy="383.30" r="2.40" fill="#afd594" stroke="#3f5a34" stroke-width="0.85"/>
<circle cx="416.70" cy="391.90" r="2.40" fill="#afd594" stroke="#3f5a34" stroke-width="0.85"/>
<circle cx="417.30" cy="396.00" r="2.40" fill="#afd594" stroke="#3f5a34" stroke-width="0.85"/>
<circle cx="416.70" cy="398.80" r="2.40" fill="#afd594" stroke="#3f5a34" stroke-width="0.85"/>
<circle cx="417.90" cy="401.20" r="2.40" fill="#afd594" stroke="#3f5a34" stroke-width="0.85"/>
<circle cx="409.20" cy="406.30" r="2.40" fill="#afd594" stroke="#3f5a34" stroke-width="0.85"/>
<circle cx="412.70" cy="409.20" r="2.40" fill="#afd594" stroke="#3f5a34" stroke-width="0.85"/>
<circle cx="417.30" cy="408.10" r="2.40" fill="#afd594" stroke="#3f5a34" stroke-width="0.85"/>
<circle cx="421.30" cy="409.20" r="2.40" fill="#afd594" stroke="#3f5a34" stroke-width="0.85"/>
<circle cx="424.80" cy="407.50" r="2.40" fill="#afd594" stroke="#3f5a34" stroke-width="0.85"/>
<circle cx="413.80" cy="412.70" r="2.40" fill="#afd594" stroke="#3f5a34" stroke-width="0.85"/>
<circle cx="417.30" cy="413.80" r="2.40" fill="#afd594" stroke="#3f5a34" stroke-width="0.85"/>
<circle cx="419.60" cy="415.00" r="2.40" fill="#afd594" stroke="#3f5a34" stroke-width="0.85"/>
<circle cx="417.30" cy="417.90" r="2.40" fill="#afd594" stroke="#3f5a34" stroke-width="0.85"/>
<circle cx="415.60" cy="421.90" r="2.40" fill="#afd594" stroke="#3f5a34" stroke-width="0.85"/>
<line x1="406.30" y1="404.40" x2="426.00" y2="404.40" stroke="#222" stroke-width="1.70" />
<line x1="445.80" y1="404.00" x2="445.80" y2="420.20" stroke="#444" stroke-width="0.90" />
<line x1="442.30" y1="404.00" x2="449.30" y2="404.00" stroke="#555" stroke-width="1.00" />
<line x1="442.30" y1="420.20" x2="449.30" y2="420.20" stroke="#555" stroke-width="1.00" />
<circle cx="446.20" cy="395.40" r="2.40" fill="#30793a" stroke="#143818" stroke-width="0.85"/>
<circle cx="441.50" cy="400.60" r="2.40" fill="#30793a" stroke="#143818" stroke-width="0.85"/>
<circle cx="449.60" cy="401.20" r="2.40" fill="#30793a" stroke="#143818" stroke-width="0.85"/>
<circle cx="444.40" cy="404.60" r="2.40" fill="#30793a" stroke="#143818" stroke-width="0.85"/>
<circle cx="448.50" cy="405.80" r="2.40" fill="#30793a" stroke="#143818" stroke-width="0.85"/>
<circle cx="439.20" cy="410.40" r="2.40" fill="#30793a" stroke="#143818" stroke-width="0.85"/>
<circle cx="445.00" cy="409.20" r="2.40" fill="#30793a" stroke="#143818" stroke-width="0.85"/>
<circle cx="450.80" cy="409.20" r="2.40" fill="#30793a" stroke="#143818" stroke-width="0.85"/>
<circle cx="454.20" cy="411.50" r="2.40" fill="#30793a" stroke="#143818" stroke-width="0.85"/>
<circle cx="441.50" cy="413.80" r="2.40" fill="#30793a" stroke="#143818" stroke-width="0.85"/>
<circle cx="446.20" cy="413.80" r="2.40" fill="#30793a" stroke="#143818" stroke-width="0.85"/>
<circle cx="449.60" cy="414.40" r="2.40" fill="#30793a" stroke="#143818" stroke-width="0.85"/>
<circle cx="445.00" cy="423.10" r="2.40" fill="#30793a" stroke="#143818" stroke-width="0.85"/>
<circle cx="447.30" cy="425.40" r="2.40" fill="#30793a" stroke="#143818" stroke-width="0.85"/>
<circle cx="445.60" cy="428.80" r="2.40" fill="#30793a" stroke="#143818" stroke-width="0.85"/>
<line x1="436.30" y1="412.10" x2="456.00" y2="412.10" stroke="#222" stroke-width="1.70" />
<text transform="translate(360.10,478.70) rotate(-45)" font-size="8.8" text-anchor="end" fill="#333">D614G</text>
<text transform="translate(389.60,478.70) rotate(-45)" font-size="8.8" text-anchor="end" fill="#333">JN.1</text>
<text transform="translate(419.30,478.70) rotate(-45)" font-size="8.8" text-anchor="end" fill="#333">LP.8.1</text>
<text transform="translate(448.90,478.70) rotate(-45)" font-size="8.8" text-anchor="end" fill="#333">BA.3.2</text>
<text x="363.50" y="321.20" font-size="8.00" text-anchor="middle" fill="#333" >6.8x</text>
<text x="395.00" y="333.00" font-size="8.00" text-anchor="middle" fill="#333" >2.6x</text>
<text x="425.00" y="342.80" font-size="8.00" text-anchor="middle" fill="#333" >1.9x</text>
<circle cx="393.93" cy="306.30" r="1.30" fill="#1a1a1a"/>
<circle cx="398.38" cy="306.30" r="1.30" fill="#1a1a1a"/>
<circle cx="402.83" cy="306.30" r="1.30" fill="#1a1a1a"/>
<circle cx="407.28" cy="306.30" r="1.30" fill="#1a1a1a"/>
<circle cx="411.65" cy="317.90" r="1.30" fill="#1a1a1a"/>
<circle cx="416.10" cy="317.90" r="1.30" fill="#1a1a1a"/>
<circle cx="420.55" cy="317.90" r="1.30" fill="#1a1a1a"/>
<circle cx="431.30" cy="329.00" r="1.30" fill="#1a1a1a"/>
<text x="2.00" y="524.00" font-size="18.5" fill="#111" stroke="#111" stroke-width="0.1" style="font-family:'Liberation Serif',serif">C</text>
<line x1="65.30" y1="556.20" x2="65.30" y2="681.70" stroke="#555" stroke-width="1.00" />
<line x1="60.80" y1="681.70" x2="191.30" y2="681.70" stroke="#999" stroke-width="1.00" />
<line x1="60.50" y1="681.70" x2="65.30" y2="681.70" stroke="#555" stroke-width="1.00" />
<text x="59.80" y="684.90" font-size="8.8" text-anchor="end" fill="#333">0</text>
<line x1="60.50" y1="618.95" x2="65.30" y2="618.95" stroke="#555" stroke-width="1.00" />
<text x="59.80" y="622.15" font-size="8.8" text-anchor="end" fill="#333">50</text>
<line x1="60.50" y1="556.20" x2="65.30" y2="556.20" stroke="#555" stroke-width="1.00" />
<text x="59.80" y="559.40" font-size="8.8" text-anchor="end" fill="#333">100</text>
<line x1="84.85" y1="681.70" x2="84.85" y2="685.90" stroke="#555" stroke-width="1.00" />
<line x1="114.05" y1="681.70" x2="114.05" y2="685.90" stroke="#555" stroke-width="1.00" />
<line x1="142.90" y1="681.70" x2="142.90" y2="685.90" stroke="#555" stroke-width="1.00" />
<line x1="172.30" y1="681.70" x2="172.30" y2="685.90" stroke="#555" stroke-width="1.00" />
<rect x="75.50" y="556.00" width="18.7" height="125.70" fill="#7a2d84" stroke="#2e1033" stroke-width="0.8"/>
<circle cx="84.85" cy="556.00" r="2.4" fill="#7a2d84" stroke="#2e1033" stroke-width="0.8"/>
<rect x="104.70" y="582.40" width="18.7" height="99.30" fill="#ecd4e9" stroke="#4f3a4d" stroke-width="0.8"/>
<circle cx="114.05" cy="582.40" r="2.4" fill="#ecd4e9" stroke="#4f3a4d" stroke-width="0.8"/>
<circle cx="142.90" cy="681.70" r="2.4" fill="#afd594" stroke="#3f5a34" stroke-width="0.8"/>
<circle cx="172.30" cy="681.70" r="2.4" fill="#30793a" stroke="#143818" stroke-width="0.8"/>
<text x="80.75" y="527.00" font-size="8.90" text-anchor="middle" fill="#2a2a2a" >19/19</text>
<text x="109.60" y="527.00" font-size="8.90" text-anchor="middle" fill="#2a2a2a" >15/19</text>
<text x="136.90" y="527.00" font-size="8.90" text-anchor="middle" fill="#2a2a2a" >0/19</text>
<text x="162.90" y="527.00" font-size="8.90" text-anchor="middle" fill="#2a2a2a" >0/19</text>
<polyline points="84.80,549.50 84.80,543.30 172.40,543.30 172.40,549.50" fill="none" stroke="#555" stroke-width="0.9"/>
<polyline points="114.20,575.50 114.20,569.20 172.40,569.20 172.40,575.50" fill="none" stroke="#555" stroke-width="0.9"/>
<circle cx="120.25" cy="535.85" r="1.75" fill="#1a1a1a"/>
<circle cx="125.45" cy="535.85" r="1.75" fill="#1a1a1a"/>
<circle cx="130.65" cy="535.85" r="1.75" fill="#1a1a1a"/>
<circle cx="135.85" cy="535.85" r="1.75" fill="#1a1a1a"/>
<circle cx="135.10" cy="561.55" r="1.75" fill="#1a1a1a"/>
<circle cx="140.30" cy="561.55" r="1.75" fill="#1a1a1a"/>
<circle cx="145.50" cy="561.55" r="1.75" fill="#1a1a1a"/>
<circle cx="150.70" cy="561.55" r="1.75" fill="#1a1a1a"/>
<text transform="translate(88.15,693.60) rotate(-45)" font-size="8.8" text-anchor="end" fill="#333">D614G</text>
<text transform="translate(117.35,693.60) rotate(-45)" font-size="8.8" text-anchor="end" fill="#333">JN.1</text>
<text transform="translate(146.20,693.60) rotate(-45)" font-size="8.8" text-anchor="end" fill="#333">LP.8.1</text>
<text transform="translate(175.60,693.60) rotate(-45)" font-size="8.8" text-anchor="end" fill="#333">BA.3.2</text>
<text transform="translate(33,618.6) rotate(-90)" font-size="9.4" text-anchor="middle" fill="#333">Frequency of responders (%)</text>
<text x="175.80" y="524.00" font-size="18.5" fill="#111" stroke="#111" stroke-width="0.1" style="font-family:'Liberation Serif',serif">E</text>
<line x1="199.40" y1="556.20" x2="199.40" y2="681.70" stroke="#555" stroke-width="1.00" />
<line x1="194.90" y1="681.70" x2="323.50" y2="681.70" stroke="#999" stroke-width="1.00" />
<line x1="194.60" y1="681.70" x2="199.40" y2="681.70" stroke="#555" stroke-width="1.00" />
<line x1="194.60" y1="618.95" x2="199.40" y2="618.95" stroke="#555" stroke-width="1.00" />
<line x1="194.60" y1="556.20" x2="199.40" y2="556.20" stroke="#555" stroke-width="1.00" />
<line x1="218.80" y1="681.70" x2="218.80" y2="685.90" stroke="#555" stroke-width="1.00" />
<line x1="247.90" y1="681.70" x2="247.90" y2="685.90" stroke="#555" stroke-width="1.00" />
<line x1="276.50" y1="681.70" x2="276.50" y2="685.90" stroke="#555" stroke-width="1.00" />
<line x1="305.80" y1="681.70" x2="305.80" y2="685.90" stroke="#555" stroke-width="1.00" />
<rect x="209.45" y="560.40" width="18.7" height="121.30" fill="#7a2d84" stroke="#2e1033" stroke-width="0.8"/>
<circle cx="218.80" cy="560.40" r="2.4" fill="#7a2d84" stroke="#2e1033" stroke-width="0.8"/>
<rect x="238.55" y="560.40" width="18.7" height="121.30" fill="#ecd4e9" stroke="#4f3a4d" stroke-width="0.8"/>
<circle cx="247.90" cy="560.40" r="2.4" fill="#ecd4e9" stroke="#4f3a4d" stroke-width="0.8"/>
<rect x="267.15" y="623.30" width="18.7" height="58.40" fill="#afd594" stroke="#3f5a34" stroke-width="0.8"/>
<circle cx="276.50" cy="623.30" r="2.4" fill="#afd594" stroke="#3f5a34" stroke-width="0.8"/>
<rect x="296.45" y="603.20" width="18.7" height="78.50" fill="#30793a" stroke="#143818" stroke-width="0.8"/>
<circle cx="305.80" cy="603.20" r="2.4" fill="#30793a" stroke="#143818" stroke-width="0.8"/>
<text x="214.00" y="527.10" font-size="8.90" text-anchor="middle" fill="#2a2a2a" >29/30</text>
<text x="241.80" y="527.10" font-size="8.90" text-anchor="middle" fill="#2a2a2a" >29/30</text>
<text x="269.60" y="527.10" font-size="8.90" text-anchor="middle" fill="#2a2a2a" >14/30</text>
<text x="299.50" y="527.10" font-size="8.90" text-anchor="middle" fill="#2a2a2a" >19/30</text>
<polyline points="218.80,547.40 218.80,540.80 306.00,540.80 306.00,547.40" fill="none" stroke="#555" stroke-width="0.9"/>
<polyline points="248.90,558.20 248.90,553.00 306.00,553.00 306.00,558.20" fill="none" stroke="#555" stroke-width="0.9"/>
<circle cx="259.50" cy="533.10" r="1.75" fill="#1a1a1a"/>
<circle cx="264.70" cy="533.10" r="1.75" fill="#1a1a1a"/>
<circle cx="274.30" cy="545.40" r="1.75" fill="#1a1a1a"/>
<circle cx="279.50" cy="545.40" r="1.75" fill="#1a1a1a"/>
<text transform="translate(222.10,693.60) rotate(-45)" font-size="8.8" text-anchor="end" fill="#333">D614G</text>
<text transform="translate(251.20,693.60) rotate(-45)" font-size="8.8" text-anchor="end" fill="#333">JN.1</text>
<text transform="translate(279.80,693.60) rotate(-45)" font-size="8.8" text-anchor="end" fill="#333">LP.8.1</text>
<text transform="translate(309.10,693.60) rotate(-45)" font-size="8.8" text-anchor="end" fill="#333">BA.3.2</text>
<text x="324.20" y="524.00" font-size="18.5" fill="#111" stroke="#111" stroke-width="0.1" style="font-family:'Liberation Serif',serif">G</text>
<line x1="333.70" y1="556.20" x2="333.70" y2="681.70" stroke="#555" stroke-width="1.00" />
<line x1="329.20" y1="681.70" x2="460.60" y2="681.70" stroke="#999" stroke-width="1.00" />
<line x1="328.90" y1="681.70" x2="333.70" y2="681.70" stroke="#555" stroke-width="1.00" />
<line x1="328.90" y1="618.95" x2="333.70" y2="618.95" stroke="#555" stroke-width="1.00" />
<line x1="328.90" y1="556.20" x2="333.70" y2="556.20" stroke="#555" stroke-width="1.00" />
<line x1="352.70" y1="681.70" x2="352.70" y2="685.90" stroke="#555" stroke-width="1.00" />
<line x1="381.90" y1="681.70" x2="381.90" y2="685.90" stroke="#555" stroke-width="1.00" />
<line x1="410.80" y1="681.70" x2="410.80" y2="685.90" stroke="#555" stroke-width="1.00" />
<line x1="439.10" y1="681.70" x2="439.10" y2="685.90" stroke="#555" stroke-width="1.00" />
<rect x="343.35" y="556.60" width="18.7" height="125.10" fill="#7a2d84" stroke="#2e1033" stroke-width="0.8"/>
<circle cx="352.70" cy="556.60" r="2.4" fill="#7a2d84" stroke="#2e1033" stroke-width="0.8"/>
<rect x="372.55" y="565.80" width="18.7" height="115.90" fill="#ecd4e9" stroke="#4f3a4d" stroke-width="0.8"/>
<circle cx="381.90" cy="565.80" r="2.4" fill="#ecd4e9" stroke="#4f3a4d" stroke-width="0.8"/>
<rect x="401.45" y="578.50" width="18.7" height="103.20" fill="#afd594" stroke="#3f5a34" stroke-width="0.8"/>
<circle cx="410.80" cy="578.50" r="2.4" fill="#afd594" stroke="#3f5a34" stroke-width="0.8"/>
<rect x="429.75" y="578.50" width="18.7" height="103.20" fill="#30793a" stroke="#143818" stroke-width="0.8"/>
<circle cx="439.10" cy="578.50" r="2.4" fill="#30793a" stroke="#143818" stroke-width="0.8"/>
<text x="353.00" y="526.70" font-size="8.90" text-anchor="middle" fill="#2a2a2a" >30/30</text>
<text x="384.00" y="526.70" font-size="8.90" text-anchor="middle" fill="#2a2a2a" >28/30</text>
<text x="413.50" y="526.70" font-size="8.90" text-anchor="middle" fill="#2a2a2a" >25/30</text>
<text x="441.80" y="526.70" font-size="8.90" text-anchor="middle" fill="#2a2a2a" >25/30</text>
<text transform="translate(356.00,693.60) rotate(-45)" font-size="8.8" text-anchor="end" fill="#333">D614G</text>
<text transform="translate(385.20,693.60) rotate(-45)" font-size="8.8" text-anchor="end" fill="#333">JN.1</text>
<text transform="translate(414.10,693.60) rotate(-45)" font-size="8.8" text-anchor="end" fill="#333">LP.8.1</text>
<text transform="translate(442.40,693.60) rotate(-45)" font-size="8.8" text-anchor="end" fill="#333">BA.3.2</text>
</svg></body></html>
